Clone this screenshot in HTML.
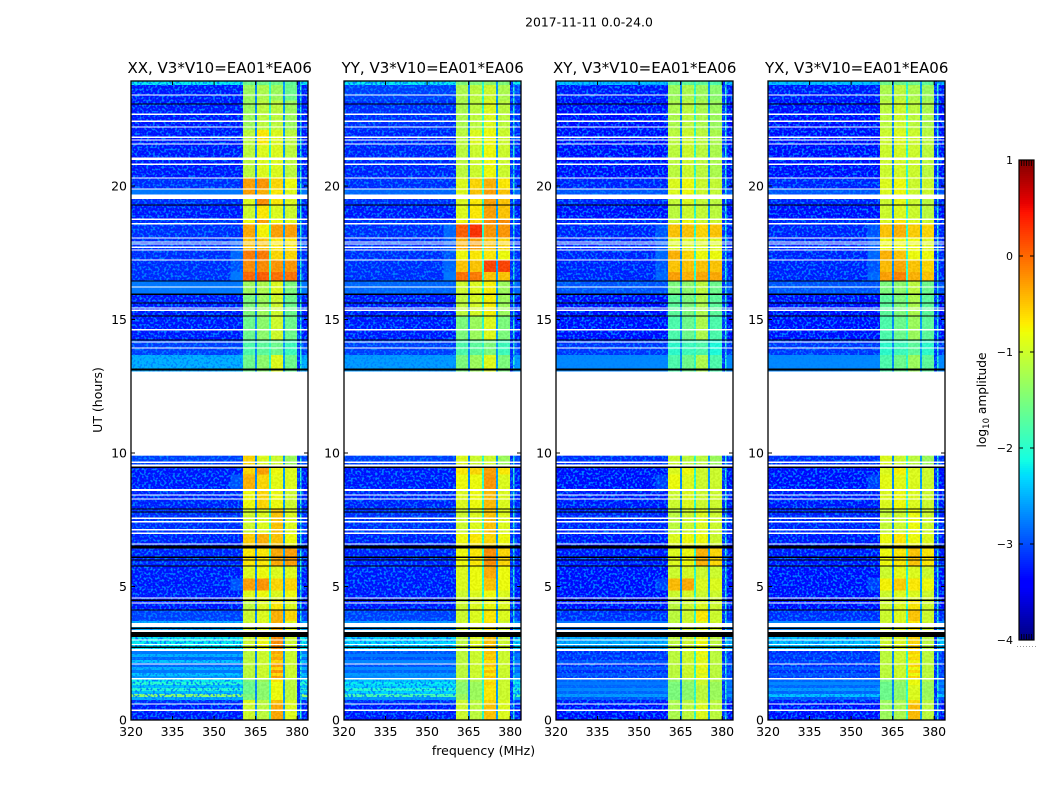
<!DOCTYPE html>
<html lang="en">
<head>
<meta charset="utf-8">
<title>2017-11-11 0.0-24.0</title>
<style>
html,body{margin:0;padding:0;background:#fff;}
svg{display:block;}
text{font-family:"DejaVu Sans","Liberation Sans",sans-serif;fill:#000;}
</style>
</head>
<body>
<svg id="chart" xmlns="http://www.w3.org/2000/svg" width="1050" height="800" viewBox="0 0 1050 800">
  <defs>
    <filter id="grainBg" x="0" y="0" width="100%" height="100%" color-interpolation-filters="sRGB">
      <feTurbulence type="fractalNoise" baseFrequency="0.45" numOctaves="1" seed="7"/>
      <feColorMatrix type="matrix" values="0 0 0 0 0  0 0 0 0 0.5  0 0 0 0 1  6 0 0 0 -2.9"/>
    </filter>
    <filter id="grainBand" x="0" y="0" width="100%" height="100%" color-interpolation-filters="sRGB">
      <feTurbulence type="fractalNoise" baseFrequency="0.45" numOctaves="1" seed="11"/>
      <feColorMatrix type="matrix" values="6 0 0 0 -2.5  6 0 0 0 -2.5  6 0 0 0 -2.5  0 0 0 0 0.05"/>
    </filter>
  </defs>
  <text x="589" y="26.500" font-size="12.4" text-anchor="middle">2017-11-11 0.0-24.0</text>
  <text x="0" y="0" font-size="12.5" text-anchor="middle" transform="translate(102,400) rotate(-90)">UT (hours)</text>
  <text x="483.500" y="755" font-size="12.5" text-anchor="middle">frequency (MHz)</text>
  <text x="0" y="0" font-size="12.2" text-anchor="middle" transform="translate(986,400) rotate(-90)">log<tspan font-size="8.5" dy="3">10</tspan><tspan dy="-3"> amplitude</tspan></text>
  <g id="panels"></g>
  <g id="colorbar"></g>
</svg>
<script>
// ---- Data ----
const panelTitles = ["XX, V3*V10=EA01*EA06","YY, V3*V10=EA01*EA06","XY, V3*V10=EA01*EA06","YX, V3*V10=EA01*EA06"];
const freqTicks = [320,335,350,365,380];
const hourTicks = [0,5,10,15,20];
const colorTicks = [-4,-3,-2,-1,0,1];

// frequency column edges (MHz)
const freqEdges = [320,356,360.4,364.7,365.5,369.8,370.5,374.9,375.6,380,381,381.6,383.9];
// which value of a row feeds each column (0 background, 1-4 bands, 5 shoulder)
const columnBand = [0,5,1,null,2,null,3,null,4,null,null,0];
// log amplitude of the narrow channels that do not vary by row
const columnFixed = [null,null,null,-2.7,null,-2.0,null,-2.6,null,-3.2,-2,null];

// time row edges (UT hours)
const rowEdges = [0,.6,.75,.86,.97,1.08,1.2,1.31,1.42,1.54,1.65,1.76,1.87,1.99,2.13,2.25,2.36,2.47,2.58,3.11,3.7,4.12,4.49,4.85,5.3,5.77,6.5,7,7.9,8.58,9.2,9.47,9.9,13,13.67,14.23,15.13,15.95,16.44,16.78,17.23,17.6,18.05,18.58,18.76,19.29,19.53,19.89,20.3,21.53,22.1,23.2,23.78,23.93];

// log10 amplitude per row: [background, band1, band2, band3, band4, shoulder(optional)]
const levelsXX = [
[-3.3,-1,-1.1,-.35,-.9],[-3.2,-.9,-1.1,-.5,-.9],[-2.5,-1.5,-1.4,-.8,-1.1],[-1.4,-1.5,-1.4,-.8,-1.1],
[-2.4,-1.6,-1.4,-.8,-1.1],[-2,-1.6,-1.4,-.8,-1.1],[-2.4,-1.6,-1.4,-.8,-1.1],[-2,-1.6,-1.4,-.8,-1.1],
[-2.2,-1.5,-1.3,-.7,-1.1],[-2.6,-1.1,-1,-.3,-1],[-2.4,-1.1,-1,-.6,-1],[-2.8,-1.1,-1,-.25,-1],
[-2.5,-1.1,-1,-.6,-1],[-2.9,-1.1,-1,-.3,-1],[-2.4,-1.1,-1,-.6,-1],[-2.9,-1.1,-1,-.35,-1],
[-2.5,-1.1,-1,-.5,-1],[-2.8,-1.1,-1,-.35,-1],[-2.2,-1,-.8,-.2,-1],[-2.5,-1,-.9,-.4,-.9],
[-3.1,-1,-.9,-.4,-.6],[-3.3,-1.1,-.9,-.7,-.9],[-3.3,-.9,-.8,-.9,-.8],[-3.3,-.3,-.25,-.6,-.6,-3],
[-3.3,-.9,-.8,-.9,-.9],[-3.25,-.7,-.7,-.35,-.3],[-3.25,-.55,-.4,-.5,-.8],[-3.2,-1,-.9,-.5,-.9],
[-3.25,-.8,-.6,-.8,-1],[-3.3,-.4,-.6,-.85,-.9,-3],[-3.3,-.6,-.3,-.8,-.9],[-3.1,-.6,-.9,-1,-1.3],
null,
[-2.5,-1.6,-1.4,-.9,-1.6],[-3.1,-1.8,-1.7,-1.6,-1.9],[-3.3,-1.6,-1.4,-1,-1.6],[-3.3,-1.5,-1.3,-1,-1.6],
[-2.8,-1.3,-1.2,-.9,-1.5],[-3.2,0,.05,-.05,-.05,-2.8],[-3.2,-.2,-.2,-.25,-.25,-3],[-3.2,-.1,-.1,-.6,-.6,-2.9],
[-3.2,-.5,-.5,-.7,-.7,-3],[-3.2,-.35,-.75,-.3,-.3],[-3.2,-.8,-.3,-.8,-.9],[-3.3,-1,-.7,-.9,-1],
[-3.2,-.9,-.2,-.7,-.9],[-2.8,-.3,-.4,-.7,-.9],[-3.2,-.3,-.25,-.6,-.8],[-3.3,-1.1,-.9,-.9,-1.1],
[-3.3,-1.1,-.7,-.9,-1.1],[-3.3,-1.3,-1.1,-1.1,-1.3],[-3.3,-1.3,-1.2,-1.3,-1.6],[-2.2,-1.6,-1.6,-1.6,-1.7]
];
const levelsYY = [
[-3.3,-1,-1.1,-.5,-.9],[-3.2,-1,-1.1,-.6,-.9],[-2.6,-1.3,-1.3,-.7,-1],[-1.8,-1.3,-1.3,-.7,-1],
[-2.3,-1.4,-1.3,-.7,-1],[-2,-1.4,-1.3,-.7,-1],[-2.3,-1.4,-1.3,-.7,-1],[-2.2,-1.4,-1.3,-.6,-1],
[-2.4,-1.3,-1.2,-.7,-1],[-2.7,-1.1,-1,-.5,-1],[-2.6,-1.1,-1,-.7,-1],[-2.9,-1.1,-1,-.5,-1],
[-2.7,-1.1,-1,-.7,-1],[-3,-1.1,-1,-.5,-1],[-2.7,-1.1,-1,-.7,-1],[-3,-1.1,-1,-.5,-1],
[-2.8,-1.1,-1,-.6,-1],[-3,-1.1,-1,-.5,-1],[-2.3,-1.1,-.9,-.5,-1],[-2.6,-1,-.9,-.7,-1],
[-3.1,-1,-.9,-.7,-.9],[-3.3,-1,-.9,-.8,-.9],[-3.3,-1,-.9,-.8,-.9],[-3.3,-.9,-.8,-.5,-.8],
[-3.3,-.9,-.8,-.35,-.8],[-3.25,-.8,-.7,-.2,-.6],[-3.25,-.8,-.7,-.6,-.8],[-3.2,-1,-.9,-.5,-.9],
[-3.25,-.9,-.8,-.45,-.9],[-3.3,-.8,-.8,-.25,-.9],[-3.3,-.7,-.6,-.3,-.7],[-3.1,-.9,-1,-1,-1.3],
null,
[-2.6,-1.5,-1.3,-.9,-1.5],[-3.1,-1.8,-1.7,-1.5,-1.9],[-3.3,-1.5,-1.3,-.9,-1.5],[-3.3,-1.1,-.95,-.75,-1.3],
[-2.9,-1,-.9,-.75,-1.3],[-3.2,-.05,-.1,-.5,-.5,-2.8],[-3.2,-.5,-.5,.2,.2,-2.9],[-3.2,-.8,-.7,-.7,-.8,-3],
[-3.2,-.4,-.3,-.5,-.6,-3],[-3.2,.05,.3,-.25,-.25,-2.9],[-3.2,-.8,-.6,-.2,-.2],[-3.3,-.9,-.7,-.3,-.5],
[-3.2,-.9,-.7,-.3,-.5],[-2.9,-.9,-.5,-.3,-.5],[-3.2,-.9,-.6,-.4,-.7],[-3.25,-1.1,-1,-.8,-1],
[-3.25,-1.1,-.9,-.8,-1],[-3.2,-1.2,-1.1,-.9,-1.1],[-3.1,-1.2,-1.1,-1,-1.2],[-2.2,-1.5,-1.5,-1.4,-1.5]
];
const levelsXY = [
[-3.35,-1.2,-1.1,-.9,-1.1],[-3.3,-1.2,-1.1,-1,-1.1],[-3,-1.5,-1.4,-1.1,-1.3],[-2.6,-1.5,-1.4,-1.1,-1.3],
[-2.9,-1.5,-1.4,-1.1,-1.3],[-2.7,-1.5,-1.4,-1.1,-1.3],[-2.9,-1.5,-1.4,-1.1,-1.3],[-2.8,-1.5,-1.4,-1,-1.3],
[-2.9,-1.4,-1.3,-1,-1.2],[-3.1,-1.1,-1,-.8,-1.1],[-3,-1.1,-1,-.9,-1.1],[-3.2,-1.1,-1,-.8,-1.1],
[-3,-1.1,-1,-.9,-1.1],[-3.2,-1.1,-1,-.8,-1.1],[-3,-1.1,-1,-.9,-1.1],[-3.2,-1.1,-1,-.8,-1.1],
[-3.1,-1.1,-1,-.9,-1.1],[-3.2,-1.1,-1,-.8,-1.1],[-2.5,-1.1,-1,-.8,-1.1],[-2.8,-1.1,-1,-.9,-1],
[-3.2,-1.1,-1,-.7,-1],[-3.35,-1.1,-1,-.9,-1],[-3.35,-1,-.95,-1,-1],[-3.35,-.45,-.35,-.9,-.9,-3.1],
[-3.35,-1,-.95,-1,-1],[-3.3,-.9,-.8,-.4,-.6],[-3.3,-.9,-.8,-.8,-1],[-3.25,-1.1,-1,-.9,-1],
[-3.3,-1,-.9,-1,-1],[-3.35,-.8,-.9,-1,-1,-3.1],[-3.35,-.9,-.8,-1,-1],[-3.2,-1,-1.1,-1.1,-1.3],
null,
[-2.7,-1.8,-1.6,-1.2,-1.8],[-3.15,-2,-1.9,-1.8,-2.1],[-3.35,-1.8,-1.6,-1.2,-1.8],[-3.35,-1.7,-1.5,-1.2,-1.7],
[-3,-1.5,-1.4,-1.1,-1.6],[-3.25,-.3,-.4,-.35,-.35,-2.9],[-3.25,-.5,-.5,-.5,-.5,-3],[-3.25,-.4,-.6,-.8,-.8,-2.9],
[-3.25,-.9,-.9,-.9,-.9,-3],[-3.25,-.5,-.5,-.6,-.5,-3],[-3.25,-1,-.8,-1,-1],[-3.35,-1.1,-1,-1.05,-1.1],
[-3.25,-1.05,-.9,-1.05,-1.1],[-3,-.9,-.8,-1,-1.05],[-3.25,-.9,-.8,-1,-1.05],[-3.35,-1.1,-1,-1.1,-1.2],
[-3.35,-1.1,-1,-1.1,-1.2],[-3.35,-1.2,-1.1,-1.2,-1.3],[-3.3,-1.3,-1.2,-1.3,-1.4],[-2.4,-1.7,-1.7,-1.7,-1.8]
];
const levelsYX = [
[-3.35,-1.3,-1.2,-.45,-1.1],[-3.3,-1.3,-1.2,-.6,-1.1],[-3,-1.6,-1.4,-.9,-1.3],[-2.4,-1.6,-1.4,-.9,-1.3],
[-2.9,-1.6,-1.4,-.9,-1.3],[-2.6,-1.6,-1.4,-.9,-1.3],[-2.9,-1.6,-1.4,-.9,-1.3],[-2.7,-1.6,-1.4,-.8,-1.3],
[-2.9,-1.5,-1.3,-.8,-1.2],[-3.1,-1.1,-1,-.6,-1.1],[-3,-1.1,-1,-.8,-1.1],[-3.2,-1.1,-1,-.6,-1.1],
[-3,-1.1,-1,-.8,-1.1],[-3.2,-1.1,-1,-.6,-1.1],[-3.1,-1.1,-1,-.8,-1.1],[-3.2,-1.1,-1,-.6,-1.1],
[-3.1,-1.1,-1,-.7,-1.1],[-3.2,-1.1,-1,-.6,-1.1],[-2.4,-1,-.9,-.6,-1.1],[-2.7,-1,-.9,-.7,-1],
[-3.2,-1,-.9,-.5,-1],[-3.35,-1,-.9,-.7,-1],[-3.35,-1,-.9,-.9,-1],[-3.35,-.75,-.55,-.7,-.8,-3.1],
[-3.35,-1,-.85,-.9,-1],[-3.3,-.8,-.7,-.5,-.7],[-3.3,-.8,-.7,-.8,-.9],[-3.25,-1.05,-1,-.8,-1],
[-3.3,-.9,-.8,-.9,-1],[-3.35,-.85,-.85,-.9,-1,-3.1],[-3.35,-.9,-.75,-.9,-1],[-3.2,-.9,-1,-1.1,-1.3],
null,
[-2.7,-1.8,-1.6,-1.3,-1.7],[-3.15,-2,-1.9,-1.7,-2],[-3.35,-1.8,-1.6,-1.3,-1.7],[-3.35,-1.7,-1.5,-1.2,-1.7],
[-3,-1.5,-1.4,-1.1,-1.6],[-3.25,-.3,-.15,-.4,-.5,-2.9],[-3.25,-.45,-.35,-.5,-.6,-3],[-3.25,-.4,-.5,-.8,-.8,-2.9],
[-3.25,-.8,-.8,-.8,-.9,-3],[-3.25,-.5,-.4,-.55,-.6,-3],[-3.25,-.9,-.7,-.9,-1],[-3.35,-1,-.9,-1,-1.1],
[-3.25,-1,-.85,-1,-1.1],[-3,-.9,-.8,-1,-1],[-3.25,-.9,-.8,-1,-1],[-3.35,-1,-.95,-1,-1.1],
[-3.35,-1,-.9,-1,-1.1],[-3.35,-1.1,-1,-1.1,-1.2],[-3.3,-1.2,-1.1,-1.2,-1.3],[-2.4,-1.6,-1.6,-1.6,-1.7]
];
const panelLevels = [levelsXX,levelsYY,levelsXY,levelsYX];

// flagged integrations: [UT hour, thickness in hours]
const whiteFlags = [[23.41,.05],[22.69,.05],[22.43,.05],[22.21,.05],[21.83,.05],[21.72,.05],[21.57,.05],[21.02,.09],[20.82,.05],[20.3,.05],[19.89,.05],[19.6,.17],[18.76,.05],[18.58,.05],[18.05,.05],[17.9,.05],[17.83,.05],[17.71,.05],[17.6,.05],[17.23,.05],[16.22,.05],[15.43,.05],[15.35,.05],[14.61,.05],[14.16,.05],[13.93,.05],[13.03,.05],[9.66,.06],[9.53,.08],[8.61,.07],[8.43,.05],[8.28,.05],[7.56,.05],[7.42,.05],[7.12,.05],[7,.05],[6.59,.05],[4.57,.05],[4.38,.05],[3.56,.15],[3.33,.08],[3,.04],[2.83,.04],[2.62,.09],[2.1,.05],[1.54,.05],[.6,.05],[.37,.05]];
const blackFlags = [[23.07,.05],[19.29,.05],[16.44,.05],[15.95,.05],[15.62,.04],[15.13,.05],[14.23,.05],[13.13,.08],[9.47,.05],[7.9,.05],[7.79,.05],[6.48,.1],[6.1,.05],[5.99,.05],[5.77,.05],[4.49,.05],[4.12,.05],[3.43,.06],[3.2,.19],[2.73,.05]];

// ---- Axis functions and layout ----
const SVG_NS = "http://www.w3.org/2000/svg";
const panelLefts = [131,344,556,768];
const plotWidth = 177, plotTop = 81, plotBottom = 720;
const pxPerMHz = 2.77, pxPerHour = 26.7;
function xScale(panelLeft, mhz){ return panelLeft + (mhz - 320) * pxPerMHz; }
function yScale(hour){ return plotBottom - hour * pxPerHour; }
const cbLeft = 1019, cbWidth = 15, cbTop = 160, cbBottom = 640;
function cbScale(level){ return cbBottom - (level + 4) / 5 * (cbBottom - cbTop); }

function interp(t, pts){
  for(let i = 1; i < pts.length; i++){
    if(t <= pts[i][0]){
      const a = pts[i-1], b = pts[i];
      return a[1] + (b[1]-a[1]) * (t-a[0]) / (b[0]-a[0]);
    }
  }
  return pts[pts.length-1][1];
}
const jetR = [[0,0],[.35,0],[.66,1],[.89,1],[1,.5]];
const jetG = [[0,0],[.125,0],[.375,1],[.64,1],[.91,0],[1,0]];
const jetB = [[0,.5],[.11,1],[.34,1],[.65,0],[1,0]];
function levelColor(level){
  const t = Math.min(1, Math.max(0, (level + 4) / 5));
  const c = [jetR,jetG,jetB].map(p => Math.round(interp(t,p)*255));
  return "rgb(" + c.join(",") + ")";
}
function make(tag, parent, attrs, content){
  const el = document.createElementNS(SVG_NS, tag);
  for(const k in attrs){ el.setAttribute(k, attrs[k]); }
  if(content !== undefined){ el.textContent = content; }
  parent.appendChild(el);
  return el;
}

// ---- Panels ----
const panelsRoot = document.getElementById("panels");
panelTitles.forEach(function(title, p){
  const left = panelLefts[p];
  const levels = panelLevels[p];
  const g = make("g", panelsRoot, {});
  
  

  levels.forEach(function(row, r){
    if(row === null){ return; }
    const y0 = yScale(rowEdges[r+1]), y1 = yScale(rowEdges[r]);
    columnBand.forEach(function(src, c){
      let level = columnFixed[c];
      if(src !== null){
        level = (src === 5 && row[5] === undefined) ? row[0] : row[src];
      }
      const x0 = xScale(left, freqEdges[c]), x1 = xScale(left, freqEdges[c+1]);
      const cell = make("rect", g, {x:x0, y:y0, width:x1-x0, height:y1-y0, fill:levelColor(level), "shape-rendering":"crispEdges"});
      
      
    });
  });

  const bandStart = xScale(left, 360.4), bandEnd = xScale(left, 380);
  const grainLeft = make("rect", g, {x:left, y:plotTop, width:bandStart-left, height:plotBottom-plotTop, filter:"url(#grainBg)"});
  
  
  const grainRight = make("rect", g, {x:bandEnd, y:plotTop, width:left+plotWidth-bandEnd, height:plotBottom-plotTop, filter:"url(#grainBg)"});
  
  
  const grainBand = make("rect", g, {x:bandStart, y:plotTop, width:bandEnd-bandStart, height:plotBottom-plotTop, filter:"url(#grainBand)"});
  
  

  levels.forEach(function(row, r){
    if(row !== null){ return; }
    const y0 = yScale(rowEdges[r+1]), y1 = yScale(rowEdges[r]);
    const gap = make("rect", g, {x:left, y:y0, width:plotWidth, height:y1-y0, fill:"#fff"});
    
    
  });
  blackFlags.forEach(function(f){
    const flag = make("rect", g, {x:left, y:yScale(f[0]+f[1]/2), width:plotWidth, height:f[1]*pxPerHour, fill:"#000", "shape-rendering":"crispEdges"});
    
    
  });
  whiteFlags.forEach(function(f){
    const flag = make("rect", g, {x:left, y:yScale(f[0]+f[1]/2), width:plotWidth, height:f[1]*pxPerHour, fill:"#fff", "shape-rendering":"crispEdges"});
    
    
  });

  freqTicks.forEach(function(v){
    const x = xScale(left, v);
    const t1 = make("line", g, {x1:x, x2:x, y1:plotBottom, y2:plotBottom-4, stroke:"#000", "stroke-width":1});
    
    
    const t2 = make("line", g, {x1:x, x2:x, y1:plotTop, y2:plotTop+4, stroke:"#000", "stroke-width":1});
    
    
    const lab = make("text", g, {x:x, y:736, "font-size":12.5, "text-anchor":"middle"}, String(v));
    
    
  });
  hourTicks.forEach(function(v){
    const y = yScale(v);
    const t1 = make("line", g, {x1:left, x2:left+4, y1:y, y2:y, stroke:"#000", "stroke-width":1});
    
    
    const t2 = make("line", g, {x1:left+plotWidth, x2:left+plotWidth-4, y1:y, y2:y, stroke:"#000", "stroke-width":1});
    
    
    const lab = make("text", g, {x:left-4, y:y+4.5, "font-size":12.5, "text-anchor":"end"}, String(v));
    
    
  });

  const frame = make("rect", g, {x:left, y:plotTop, width:plotWidth, height:plotBottom-plotTop, fill:"none", stroke:"#000", "stroke-width":1.3});
  
  
  const head = make("text", g, {x:left+88.7, y:73, "font-size":15, "text-anchor":"middle"}, title);
  
  
});

// ---- Colorbar ----
const cbRoot = document.getElementById("colorbar");
for(let y = cbTop; y < cbBottom; y += 2){
  const level = -4 + (cbBottom - y - 1) / (cbBottom - cbTop) * 5;
  const strip = make("rect", cbRoot, {x:cbLeft, y:y, width:cbWidth, height:2, fill:levelColor(level), "shape-rendering":"crispEdges"});
  
  
}
for(let i = 1; i <= 5; i++){
  const x = cbLeft + i * cbWidth / 6;
  const tickTop = make("line", cbRoot, {x1:x, x2:x, y1:cbTop, y2:cbTop+6, stroke:"#000", "stroke-width":.8});
  
  
  const tickBottom = make("line", cbRoot, {x1:x, x2:x, y1:cbBottom, y2:cbBottom-6, stroke:"#000", "stroke-width":.8});
  
  
}
for(let i = 0; i < 7; i++){
  const dot = make("rect", cbRoot, {x:1017+i*3, y:646, width:1, height:1, fill:"#999"});
  
  
}
colorTicks.forEach(function(v){
  const y = cbScale(v);
  const left = make("line", cbRoot, {x1:cbLeft, x2:cbLeft+4, y1:y, y2:y, stroke:"#000", "stroke-width":1});
  
  
  const right = make("line", cbRoot, {x1:cbLeft+cbWidth, x2:cbLeft+cbWidth-4, y1:y, y2:y, stroke:"#000", "stroke-width":1});
  
  
  const lab = make("text", cbRoot, {x:1013, y:y+4, "font-size":11, "text-anchor":"end"}, String(v).replace("-", "\u2212"));
  
  
});
const cbFrame = make("rect", cbRoot, {x:cbLeft, y:cbTop, width:cbWidth, height:cbBottom-cbTop, fill:"none", stroke:"#000", "stroke-width":1.2});


</script>
</body>
</html>
